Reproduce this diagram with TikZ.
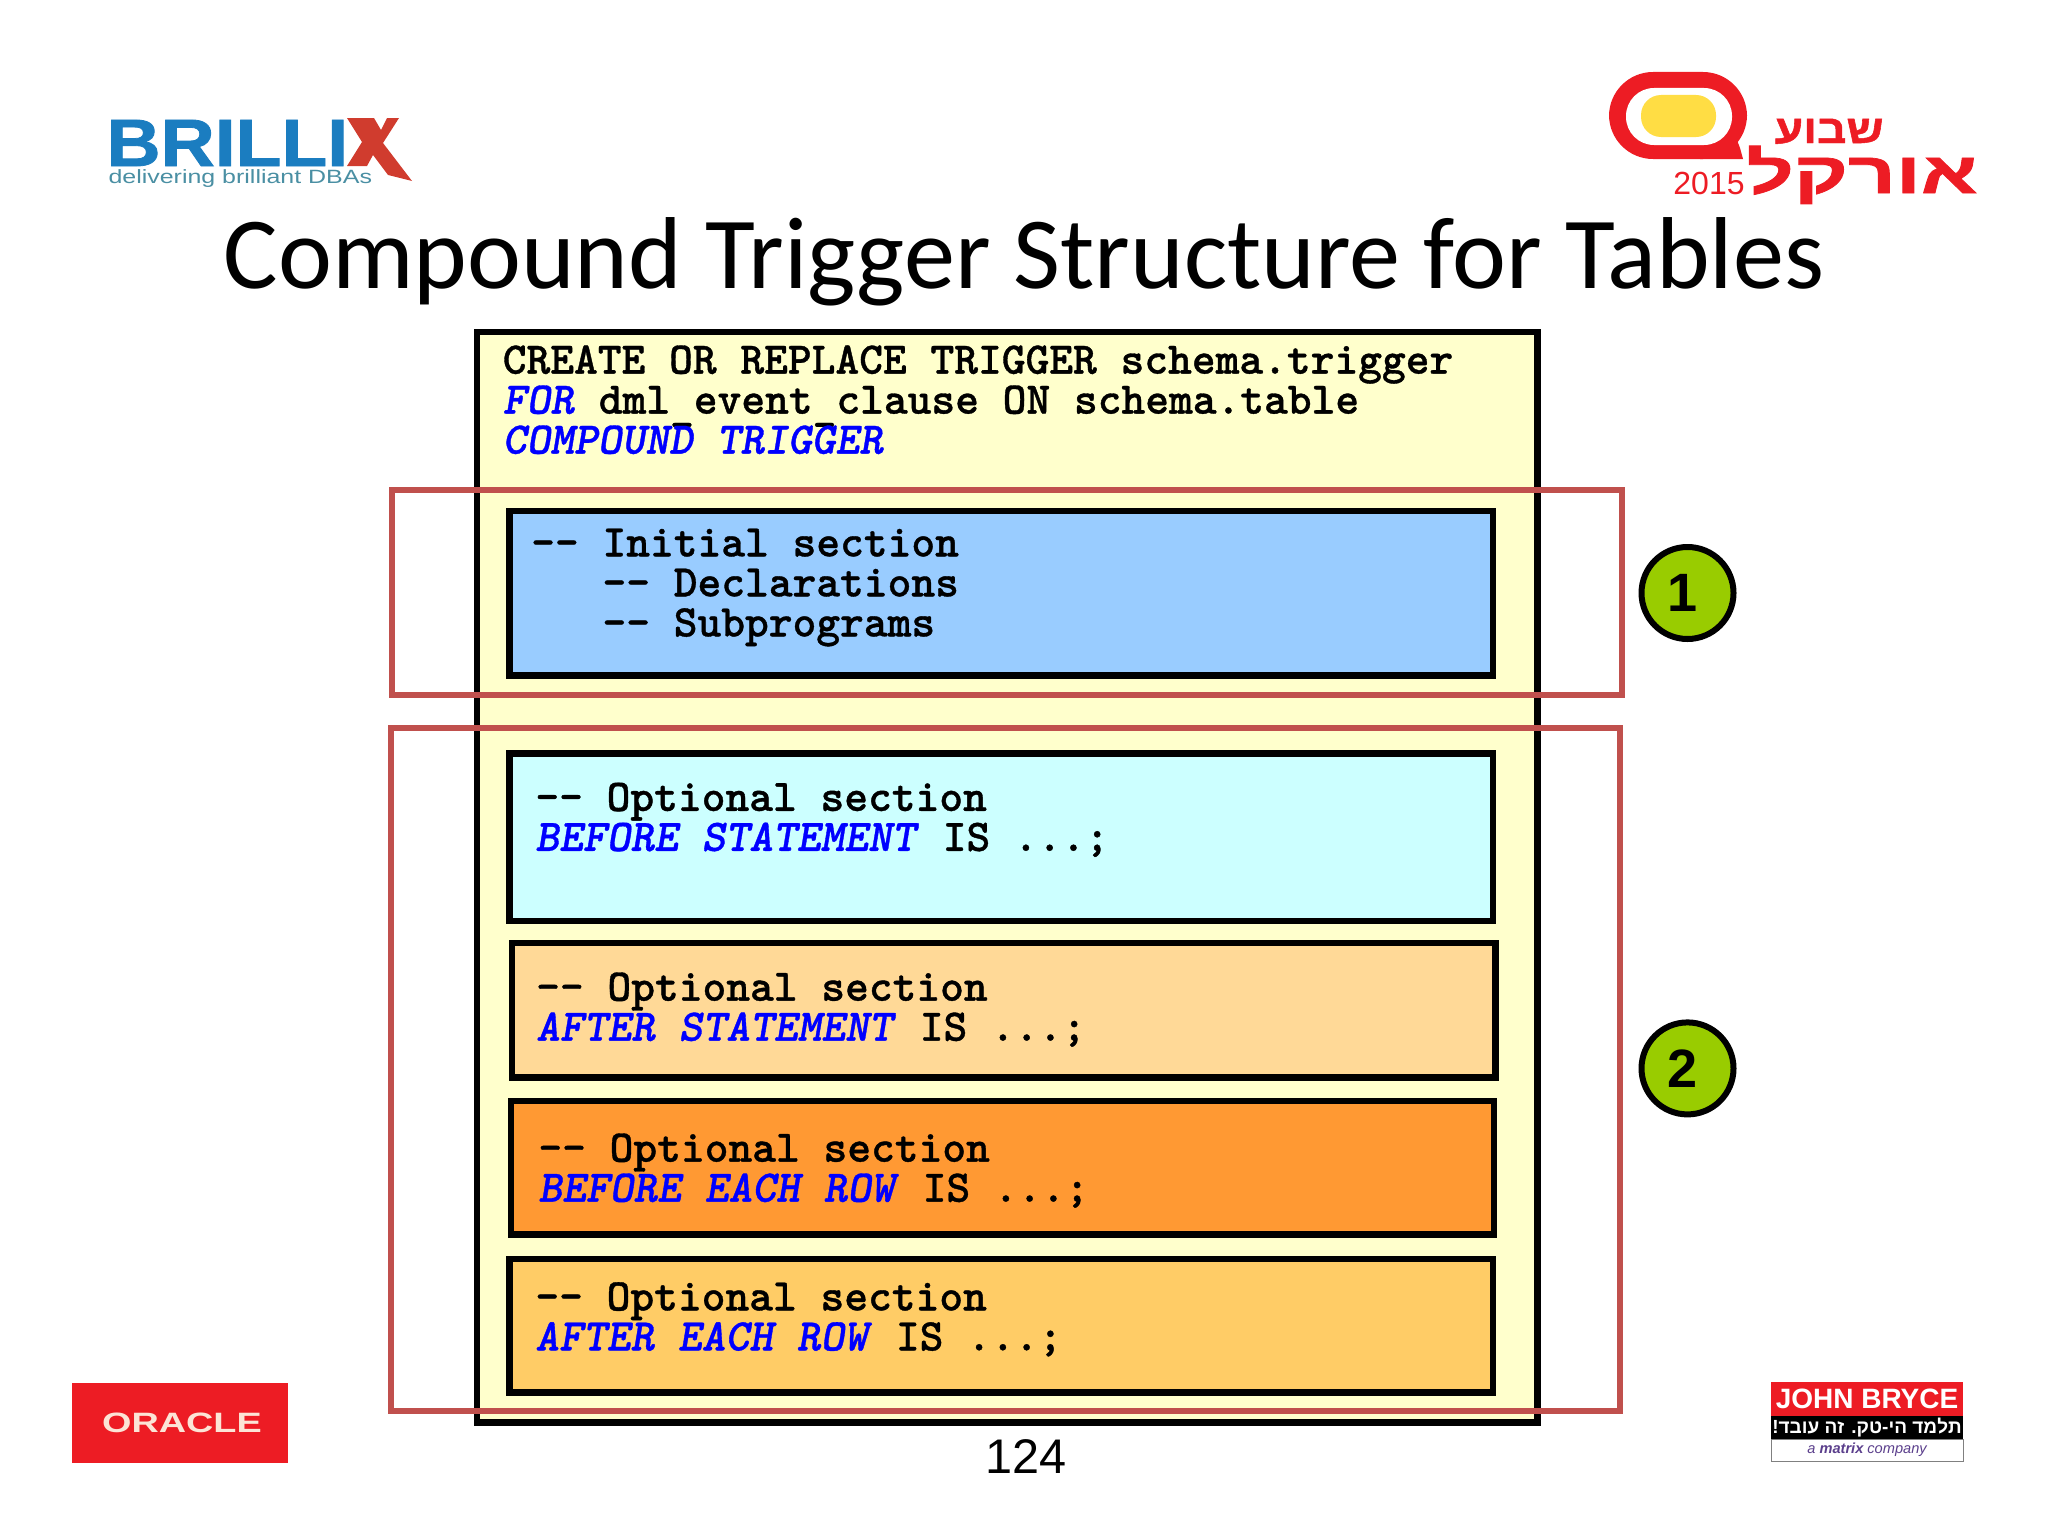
\documentclass[tikz,border=0pt]{standalone}
\usepackage{fontspec}
\setmainfont[BoldFeatures={FakeBold=1.2}]{Liberation Sans}
\newfontfamily\plainsans{Liberation Sans}
\newfontfamily\titlefont{Carlito}
\newfontfamily\codefam[Extension=.otf, UprightFont=*, SlantedFont=lmmonolt10-boldoblique, FakeBold=0.8]{lmmonolt10-bold}
\newcommand{\codefont}{\codefam\fontsize{22.63pt}{20pt}\selectfont}
\newcommand{\kw}[1]{\textcolor{kwblue}{\textsl{#1}}}
\newcommand{\lowbar}{\smash{\raisebox{-3pt}{\_}}}
\TeXXeTstate=1
\definecolor{kwblue}{HTML}{0000FF}
\definecolor{outerfill}{HTML}{FFFFCC}
\definecolor{secblue}{HTML}{99CCFF}
\definecolor{seccyan}{HTML}{CCFFFF}
\definecolor{secpeach}{HTML}{FFD997}
\definecolor{secorange}{HTML}{FF9933}
\definecolor{secamber}{HTML}{FFCC66}
\definecolor{framered}{HTML}{C0504D}
\definecolor{badgegreen}{HTML}{99CC00}
\definecolor{brillblue}{HTML}{1B7DC0}
\definecolor{brillred}{HTML}{D03C2E}
\definecolor{brillteal}{HTML}{4A8FA3}
\definecolor{logored}{HTML}{ED1C24}
\definecolor{logoyellow}{HTML}{FFDD44}
\definecolor{oracletext}{HTML}{FCE4D6}
\definecolor{matrixpurple}{HTML}{5B3F8C}

\begin{document}
\begin{tikzpicture}[x=0.5pt, y=-0.5pt,
    secbox/.style={rectangle, draw=black, line width=3.2pt, outer sep=0pt},
    redframe/.style={rectangle, draw=framered, line width=3pt, outer sep=0pt},
    codetext/.style={font=\codefont, anchor=north west, align=left, inner sep=0pt},
    numbadge/.style={circle, draw=black, line width=3pt, fill=badgegreen, minimum size=46pt,
      inner sep=0pt, font=\plainsans\bfseries\fontsize{27pt}{27pt}\selectfont},
    logotext/.style={inner sep=0pt, anchor=base west}]
  \useasboundingbox (0,0) rectangle (2048,1536);

  % title and page number
  \node[inner sep=0pt, anchor=base, font=\titlefont\fontsize{51.1pt}{51.1pt}\selectfont] (title) at (1024,288.5)
    {Compound Trigger Structure for Tables};
  \node[inner sep=0pt, anchor=base, font=\plainsans\fontsize{24.3pt}{24.3pt}\selectfont] (pagenum) at (1026,1473.5) {124};

  % trigger body
  \node[secbox, fill=outerfill, minimum width=530.3pt, minimum height=545.3pt] (outer) at (1007,877) {};
  \node[codetext] (header) at (502.4,345) {CREATE OR REPLACE TRIGGER schema.trigger\\
    \kw{FOR} dml\lowbar event\lowbar clause ON schema.table\\
    \kw{COMPOUND TRIGGER}};

  % sections
  \node[secbox, fill=secblue, minimum width=491.7pt, minimum height=82.3pt] (initial) at (1001.1,593) {};
  \node[secbox, fill=seccyan, minimum width=491.7pt, minimum height=83.6pt] (beforestmt) at (1001.1,837.2) {};
  \node[secbox, fill=secpeach, minimum width=491.7pt, minimum height=67.3pt] (afterstmt) at (1003.7,1010.3) {};
  \node[secbox, fill=secorange, minimum width=491.7pt, minimum height=66.7pt] (beforerow) at (1002.4,1167.7) {};
  \node[secbox, fill=secamber, minimum width=491.7pt, minimum height=66.7pt] (afterrow) at (1001.1,1325.7) {};

  \node[codetext] (initialtxt) at (530.8,528.3) {-- Initial section\\
    \phantom{-- }-- Declarations\\
    \phantom{-- }-- Subprograms};
  \node[codetext] (beforestmttxt) at (535,782.3) {-- Optional section\\
    \kw{BEFORE STATEMENT} IS ...;};
  \node[codetext] (afterstmttxt) at (535.8,972.1) {-- Optional section\\
    \kw{AFTER STATEMENT} IS ...;};
  \node[codetext] (beforerowtxt) at (538,1133.1) {-- Optional section\\
    \kw{BEFORE EACH ROW} IS ...;};
  \node[codetext] (afterrowtxt) at (535,1281.8) {-- Optional section\\
    \kw{AFTER EACH ROW} IS ...;};

  % red frames and badges
  \node[redframe, minimum width=615.2pt, minimum height=102.5pt] (frameone) at (1007,592.3) {};
  \node[redframe, minimum width=614.5pt, minimum height=341.5pt] (frametwo) at (1005,1069) {};
  \node[numbadge] (badgeone) at (1687.5,593) {1\hspace*{5pt}};
  \node[numbadge] (badgetwo) at (1687.5,1068.4) {2\hspace*{5pt}};

  % Brillix logo
  \node[logotext, text=brillblue, xscale=1.12, font=\bfseries\fontsize{33.5pt}{33.5pt}\selectfont] (brillix) at (106,166) {BRILLI};
  \fill[brillred] (347,118) -- (374,118) -- (381,130) -- (387,118) -- (399,118) -- (383,143)
    -- (412,181) -- (388,175) -- (373,155) -- (367,166) -- (347,166) -- (362,142) -- cycle;
  \node[logotext, text=brillteal, font=\plainsans\fontsize{9.6pt}{9.6pt}\selectfont, xscale=1.3] (brillixsub) at (108,183) {delivering brilliant DBAs};

  % Oracle week logo
  \fill[logored, rounded corners=22pt] (1609,72) rectangle (1747,159);
  \fill[logored] (1700,150) -- (1735,135) -- (1740,148) -- (1743,159) -- (1700,159) -- cycle;
  \fill[white, rounded corners=14pt] (1626,88) rectangle (1732,145);
  \fill[logoyellow, rounded corners=10pt] (1641,95) rectangle (1716,137);
  \node[logotext, text=logored, font=\plainsans\fontsize{16pt}{16pt}\selectfont] (year) at (1673,194) {2015};
  \node[inner sep=0pt, anchor=base east, text=logored, xscale=1.15, font=\bfseries\fontsize{20pt}{20pt}\selectfont] (weekname) at (1884,143) {\beginR שבוע\endR};
  \node[inner sep=0pt, anchor=base east, text=logored, xscale=1.43, font=\bfseries\fontsize{29pt}{29pt}\selectfont] (oraclename) at (1978,193) {\beginR אורקל\endR};

  % Oracle logo
  \node[rectangle, fill=logored, minimum width=108pt, minimum height=40pt, outer sep=0pt] (oraclebox) at (180,1423) {};
  \node[inner sep=0pt, text=oracletext, font=\plainsans\bfseries\fontsize{14pt}{14pt}\selectfont, xscale=1.35] (oracletxt) at (182,1423) {ORACLE};

  % John Bryce logo
  \node[rectangle, fill=logored, minimum width=96pt, minimum height=17pt, outer sep=0pt] (jbred) at (1867,1399) {};
  \node[rectangle, fill=black, minimum width=96pt, minimum height=11.5pt, outer sep=0pt] (jbblack) at (1867,1427.5) {};
  \node[rectangle, draw=gray, line width=0.5pt, fill=white, minimum width=96pt, minimum height=11pt, outer sep=0pt] (jbwhite) at (1867,1450) {};
  \node[inner sep=0pt, text=white, font=\plainsans\bfseries\fontsize{14pt}{14pt}\selectfont] (jbname) at (jbred) {JOHN BRYCE};
  \node[inner sep=0pt, text=white, font=\plainsans\bfseries\fontsize{9.5pt}{9.5pt}\selectfont] (jbslogan) at (jbblack) {\beginR תלמד הי-טק. זה עובד!\endR};
  \node[inner sep=0pt, text=matrixpurple, font=\plainsans\itshape\fontsize{7.3pt}{7.3pt}\selectfont] (jbmatrix) at (jbwhite) {a \textbf{matrix} company};
\end{tikzpicture}
\end{document}
